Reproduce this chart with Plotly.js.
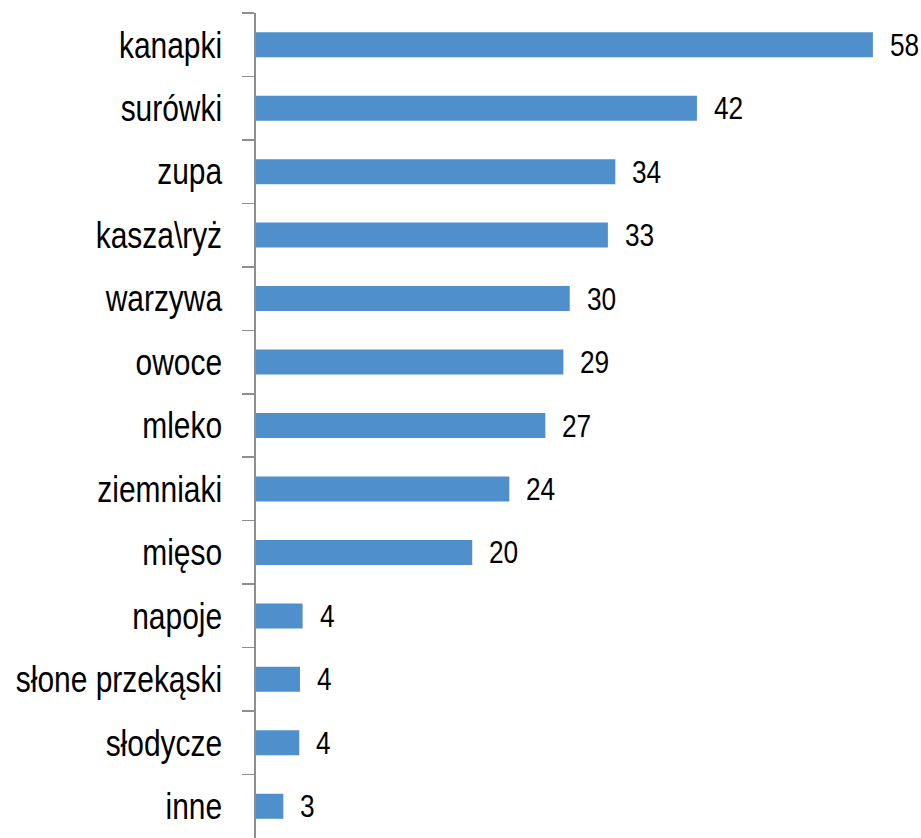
<!DOCTYPE html>
<html>
<head>
<meta charset="utf-8">
<script src="https://cdn.plot.ly/plotly-3.0.1.min.js"></script>
<style>html,body{margin:0;padding:0;background:#fff;}#chart{width:921px;height:838px;}</style>
</head>
<body>
<div id="chart"></div>
<script>
var categories = ["kanapki", "surówki", "zupa", "kasza\\ryż", "warzywa", "owoce", "mleko", "ziemniaki", "mięso", "napoje", "słone przekąski", "słodycze", "inne"];
var values = [58.2, 41.6, 33.9, 33.2, 29.6, 29.0, 27.3, 23.9, 20.4, 4.4, 4.15, 4.08, 2.58];
var valueLabels = ["58", "42", "34", "33", "30", "29", "27", "24", "20", "4", "4", "4", "3"];

var FONT = "'Liberation Sans', Arial, sans-serif";
var NARROW = 0.82;

var trace = {
  type: "bar",
  orientation: "h",
  x: values,
  y: categories,
  marker: {color: "#4E8FCC", line: {width: 0}},
  hoverinfo: "none"
};

var annotations = categories.map(function (c, i) {
  return {
    x: values[i], y: c, xref: "x", yref: "y",
    text: valueLabels[i], showarrow: false, align: "left",
    xanchor: "left", yanchor: "middle", xshift: 15,
    font: {family: FONT, size: 32, color: "#000"}
  };
});

var layout = {
  width: 921, height: 838,
  margin: {l: 256, r: 0, t: 13, b: 0, pad: 0},
  paper_bgcolor: "#fff", plot_bgcolor: "#fff",
  showlegend: false,
  bargap: 0.606,
  xaxis: {range: [0, 62.74], visible: false, showgrid: false, zeroline: false},
  yaxis: {
    type: "category",
    categoryorder: "array", categoryarray: categories,
    range: [12.5, -0.5],
    showline: true, linecolor: "#8E8E8E", linewidth: 1.6,
    ticks: "outside", tickson: "boundaries", ticklen: 12, tickwidth: 1.6, tickcolor: "#8E8E8E",
    ticklabelstandoff: 25,
    showgrid: false, zeroline: false,
    tickfont: {family: FONT, size: 36.5, color: "#000"}
  },
  annotations: annotations
};

function narrowText() {
  var nodes = document.querySelectorAll("#chart .ytick text, #chart .annotation-text");
  nodes.forEach(function (t) {
    t.removeAttribute("textLength");
    var w = t.getComputedTextLength();
    t.setAttribute("textLength", (w * NARROW).toFixed(2));
    t.setAttribute("lengthAdjust", "spacingAndGlyphs");
  });
}

Plotly.newPlot("chart", [trace], layout, {displayModeBar: false, staticPlot: true}).then(narrowText);
</script>
</body>
</html>
